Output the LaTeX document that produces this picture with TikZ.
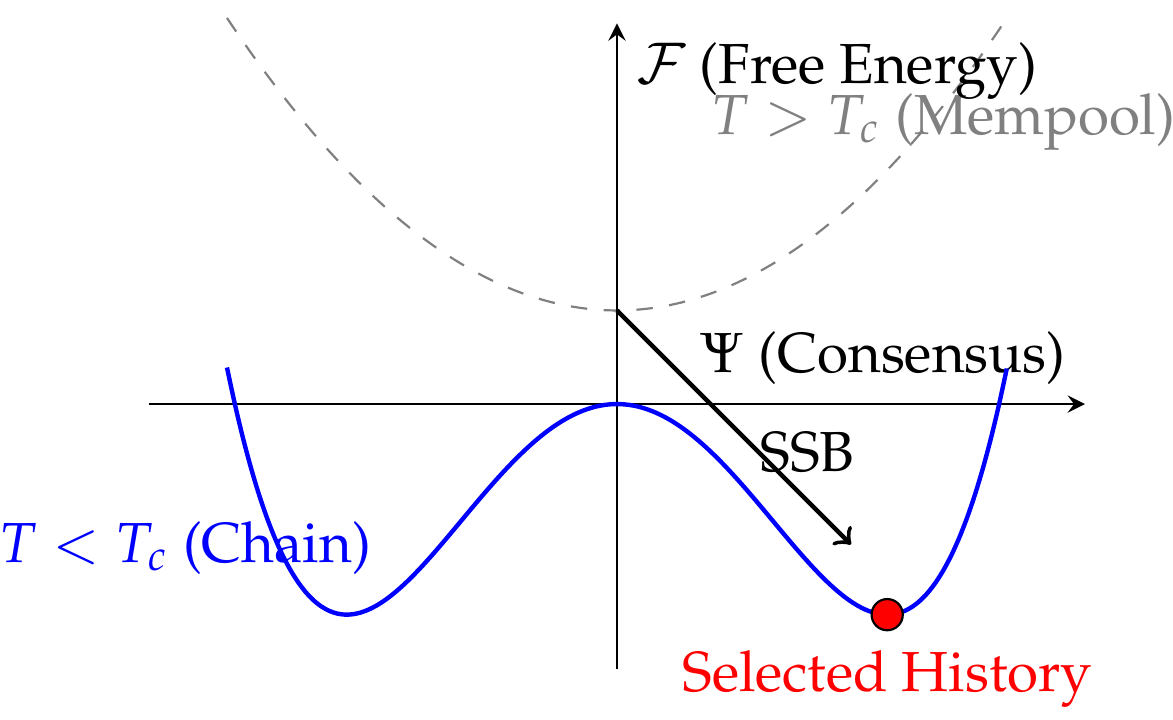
\documentclass[tikz,border=0pt]{standalone}
\usepackage[T1]{fontenc}
\usepackage{mathpazo}
\usetikzlibrary{positioning}

\begin{document}
\begin{tikzpicture}[
  every node/.style={font=\fontsize{10.3}{12.4}\selectfont},
  axis/.style={-stealth},
  well/.style={blue, thick, smooth, samples=100},
  bowl/.style={gray, dashed, smooth, samples=100},
  histdot/.style={circle, draw=black, fill=red, minimum size=0.2cm, inner sep=0pt}]
  %%%%% START %%%%%
  \useasboundingbox (-3.955,-2.019) rectangle (3.564,2.590);

  \coordinate (xl) at (-3,0);
  \coordinate (xr) at (3,0);
  \coordinate (yb) at (0,-1.7);
  \coordinate (yt) at (0,2.44);

  \draw[bowl] plot[domain=-2.5:2.5] (\x, {0.3*\x*\x+0.6});
  \node[gray] (hot) at (2.09,1.81) {$T > T_c$ (Mempool)};

  \draw[axis] (xl) -- (xr) node[above left] (psi) {$\Psi$ (Consensus)};
  \draw[axis] (yb) -- (yt) node[below right] (free) {$\mathcal{F}$ (Free Energy)};

  \draw[well] plot[domain=-2.5:2.5] (\x, {0.15*\x*\x*\x*\x-0.9*\x*\x});
  \node[blue] (cold) at (-2.77,-0.92) {$T < T_c$ (Chain)};

  \coordinate (top) at (0,0.6);
  \coordinate (ssbend) at (1.5,-0.9);
  \draw[thick, ->] (top) -- (ssbend);
  \node (ssb) at (1.22,-0.31) {SSB};

  \node[histdot] (hist) at ({sqrt(3)},-1.35) {};
  \node[red, below=0pt of hist] (histlabel) {Selected History};
  %%%%% END %%%%%
\end{tikzpicture}
\end{document}
